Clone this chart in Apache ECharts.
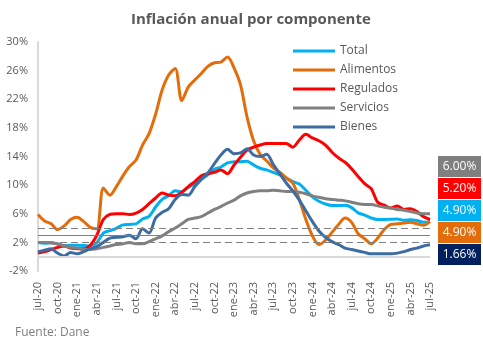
<!DOCTYPE html>
<html>
<head>
<meta charset="utf-8">
<script src="https://cdn.jsdelivr.net/npm/echarts@6/dist/echarts.min.js"></script>
<style>
  html, body { margin: 0; padding: 0; background: #fff; }
  #chart { width: 483px; height: 350px; }
</style>
</head>
<body>
<div id="chart"></div>
<script>
  // meses jul-20 .. jul-25
  const months = [
    'jul-20', 'ago-20', 'sep-20', 'oct-20', 'nov-20', 'dic-20',
    'ene-21', 'feb-21', 'mar-21', 'abr-21', 'may-21', 'jun-21', 'jul-21', 'ago-21', 'sep-21', 'oct-21', 'nov-21', 'dic-21',
    'ene-22', 'feb-22', 'mar-22', 'abr-22', 'may-22', 'jun-22', 'jul-22', 'ago-22', 'sep-22', 'oct-22', 'nov-22', 'dic-22',
    'ene-23', 'feb-23', 'mar-23', 'abr-23', 'may-23', 'jun-23', 'jul-23', 'ago-23', 'sep-23', 'oct-23', 'nov-23', 'dic-23',
    'ene-24', 'feb-24', 'mar-24', 'abr-24', 'may-24', 'jun-24', 'jul-24', 'ago-24', 'sep-24', 'oct-24', 'nov-24', 'dic-24',
    'ene-25', 'feb-25', 'mar-25', 'abr-25', 'may-25', 'jun-25', 'jul-25'
  ];

  const total = [
    1.97, 1.88, 1.97, 1.75, 1.49, 1.61,
    1.60, 1.56, 1.51, 1.95, 3.30, 3.63, 3.97, 4.44, 4.51, 4.58, 5.26, 5.62,
    6.94, 8.01, 8.53, 9.23, 9.07, 9.67, 10.21, 10.84, 11.44, 12.22, 12.53, 13.12,
    13.25, 13.28, 13.34, 12.82, 12.36, 12.13, 11.78, 11.43, 10.99, 10.48, 10.15, 9.28,
    8.35, 7.74, 7.36, 7.16, 7.16, 7.18, 6.86, 6.12, 5.81, 5.41, 5.20, 5.20,
    5.22, 5.28, 5.09, 5.16, 5.05, 4.82, 4.90
  ];

  const alimentos = [
    5.9, 5.0, 4.6, 3.8, 4.3, 5.2,
    5.5, 4.9, 4.1, 3.9, 9.6, 8.6, 9.8, 11.3, 12.6, 13.5, 15.6, 17.2,
    19.9, 23.3, 25.4, 26.3, 21.8, 23.7, 24.7, 25.6, 26.6, 27.1, 27.2, 27.9,
    26.4, 24.0, 19.5, 16.2, 14.3, 13.4, 12.4, 11.8, 11.0, 10.3, 8.0, 5.2,
    2.9, 1.7, 2.3, 3.4, 4.5, 5.4, 4.8, 3.2, 2.5, 1.8, 2.6, 3.8,
    4.5, 4.6, 4.7, 4.8, 4.6, 4.4, 4.9
  ];

  const regulados = [
    0.5, 0.7, 1.0, 1.3, 1.5, 1.2,
    1.1, 1.1, 1.6, 3.0, 5.2, 5.9, 6.0, 6.0, 5.9, 6.1, 6.6, 7.4,
    8.2, 8.9, 8.6, 8.5, 9.0, 9.8, 10.5, 11.3, 11.6, 11.8, 12.1, 11.6,
    12.8, 13.9, 14.9, 15.3, 15.6, 15.8, 15.8, 15.8, 15.8, 15.3, 16.3, 17.1,
    16.6, 16.2, 15.6, 14.6, 13.8, 13.2, 12.3, 11.2, 10.2, 9.5, 7.6, 7.2,
    6.8, 7.1, 6.6, 6.7, 6.3, 5.6, 5.2
  ];

  const servicios = [
    2.0, 2.0, 1.9, 1.8, 1.5, 1.3,
    1.2, 1.0, 1.0, 1.1, 1.3, 1.5, 1.7, 1.8, 2.0, 1.8, 1.8, 2.1,
    2.5, 2.9, 3.5, 4.0, 4.6, 5.2, 5.4, 5.6, 6.1, 6.6, 7.0, 7.5,
    7.9, 8.5, 8.9, 9.1, 9.2, 9.2, 9.3, 9.2, 9.1, 9.1, 9.0, 8.8,
    8.5, 8.3, 8.1, 8.0, 7.9, 7.8, 7.6, 7.4, 7.3, 7.3, 7.1, 6.9,
    6.8, 6.6, 6.5, 6.3, 6.1, 6.0, 6.0
  ];

  const bienes = [
    0.7, 0.9, 1.1, 0.5, 0.1, 0.6,
    0.4, 0.7, 1.1, 1.4, 2.0, 2.6, 2.7, 2.8, 3.0, 2.5, 3.9, 3.3,
    5.4, 6.2, 6.7, 8.0, 8.7, 8.6, 9.8, 10.8, 11.7, 13.0, 14.2, 15.0,
    14.4, 14.5, 15.1, 14.2, 14.0, 14.3, 12.9, 11.6, 10.3, 9.2, 7.9, 6.4,
    4.9, 3.6, 2.7, 2.1, 1.7, 1.2, 1.0, 0.8, 0.6, 0.4, 0.4, 0.4,
    0.4, 0.5, 0.7, 1.0, 1.2, 1.5, 1.66
  ];

  // líneas de referencia: rango meta (2% - 4%) y meta 3%
  const metaRango = [2, 4];
  const meta = 3;

  const FONT = 'Open Sans';
  const TXT = '#595959';

  const seriesDefs = [
    { name: 'Total', data: total, color: '#00B0F0', box: '#00B0F0' },
    { name: 'Alimentos', data: alimentos, color: '#E46C0A', box: '#E46C0A' },
    { name: 'Regulados', data: regulados, color: '#FF0000', box: '#FF0000' },
    { name: 'Servicios', data: servicios, color: '#808080', box: '#7F7F7F' },
    { name: 'Bienes', data: bienes, color: '#3D6CA3', box: '#002060' },
  ];

  const chart = echarts.init(document.getElementById('chart'), null, { renderer: 'canvas' });

  const series = seriesDefs.map((s) => ({
    name: s.name,
    type: 'line',
    data: s.data,
    smooth: 0.3,
    symbol: 'none',
    lineStyle: { width: 3, color: s.color },
    itemStyle: { color: s.color },
    z: 3,
  }));

  // serie auxiliar con las líneas horizontales
  series.unshift({
    name: 'ref',
    type: 'line',
    data: [],
    silent: true,
    z: 1,
    markLine: {
      silent: true,
      symbol: 'none',
      label: { show: false },
      data: [
        { yAxis: 0, lineStyle: { color: '#D9D9D9', width: 2, type: 'solid' } },
        { yAxis: metaRango[0], lineStyle: { color: '#808080', width: 1, type: [7, 4] } },
        { yAxis: metaRango[1], lineStyle: { color: '#808080', width: 1, type: [7, 4] } },
        { yAxis: meta, lineStyle: { color: '#808080', width: 1, type: 'solid' } },
      ],
    },
  });

  // cajas con el último dato, ordenadas de mayor a menor
  const lastVals = seriesDefs
    .map((s) => ({ v: s.data[s.data.length - 1], box: s.box }))
    .sort((a, b) => b.v - a.v);

  const boxes = lastVals.map((d, k) => ({
    type: 'group',
    left: 438,
    top: 156 + k * 22,
    children: [
      { type: 'rect', shape: { x: 0, y: 0, width: 43, height: 21 }, style: { fill: d.box } },
      {
        type: 'text',
        style: {
          x: 21.5, y: 11, text: d.v.toFixed(2) + '%',
          fill: '#fff', font: '12px "' + FONT + '"', align: 'center', verticalAlign: 'middle',
        },
      },
    ],
  }));

  const option = {
    animation: false,
    backgroundColor: '#fff',
    title: {
      text: 'Inflación anual por componente',
      left: 126,
      top: 7,
      textStyle: { color: TXT, fontFamily: FONT, fontSize: 15, fontWeight: 'bold' },
    },
    legend: {
      orient: 'vertical',
      left: 293,
      top: 44,
      padding: 0,
      icon: 'rect',
      itemWidth: 42,
      itemHeight: 3,
      itemGap: 5,
      data: seriesDefs.map((s) => s.name),
      textStyle: { color: TXT, fontFamily: FONT, fontSize: 12, lineHeight: 14 },
    },
    grid: { left: 38, right: 53, top: 42, bottom: 79, containLabel: false },
    xAxis: {
      type: 'category',
      data: months,
      boundaryGap: false,
      axisLine: { show: false },
      axisTick: { show: false },
      axisLabel: {
        interval: 2,
        rotate: 90,
        margin: 11,
        color: TXT,
        fontFamily: FONT,
        fontSize: 11,
      },
      splitLine: { show: false },
    },
    yAxis: {
      type: 'value',
      min: -2,
      max: 30,
      interval: 4,
      axisLine: { show: true, onZero: false, lineStyle: { color: '#D9D9D9', width: 2 } },
      axisTick: { show: false },
      splitLine: { show: false },
      axisLabel: {
        margin: 10,
        color: TXT,
        fontFamily: FONT,
        fontSize: 11,
        formatter: (v) => v + '%',
      },
    },
    graphic: [
      ...boxes,
      {
        type: 'text',
        left: 15,
        top: 327,
        style: { text: 'Fuente: Dane', fill: '#7F7F7F', font: '12px "' + FONT + '"' },
      },
    ],
    series,
  };

  chart.setOption(option);
</script>
</body>
</html>
